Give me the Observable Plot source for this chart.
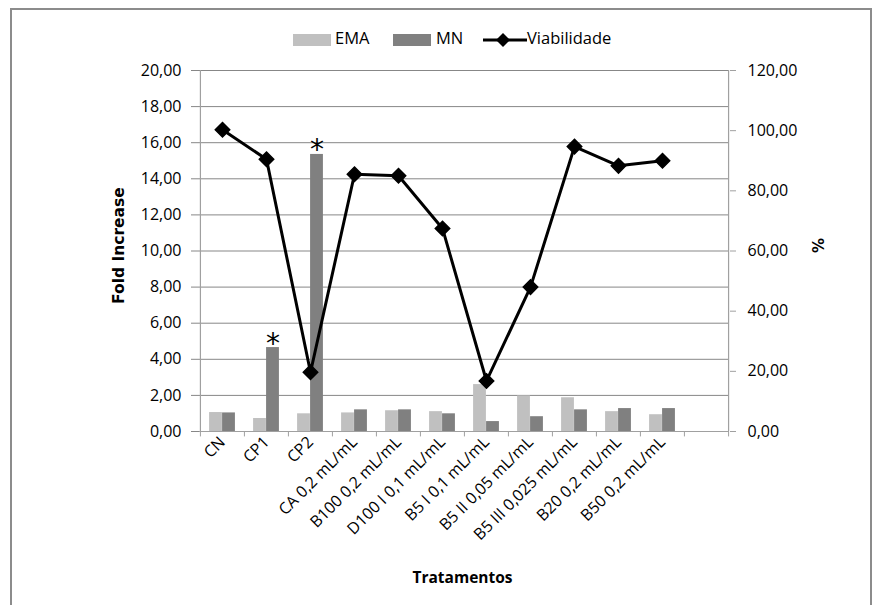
<!DOCTYPE html>
<html>
<head>
<meta charset="utf-8">
<script src="https://cdn.jsdelivr.net/npm/d3@7"></script>
<script src="https://cdn.jsdelivr.net/npm/@observablehq/plot@0.6"></script>
<style>
  html, body { margin: 0; padding: 0; background: #fff; }
  #wrap { position: relative; width: 876px; height: 605px; overflow: hidden; font-family: "Open Sans", sans-serif; }
  #frame { position: absolute; left: 10px; top: 8px; width: 862px; height: 610px; border: 2px solid #8c8c8c; box-sizing: border-box; pointer-events: none; }
  #chart { position: absolute; left: 0; top: 0; }
  .leg { position: absolute; font-size: 16.5px; color: #000; line-height: 1; white-space: nowrap; }
  .sw { position: absolute; height: 12px; }
</style>
</head>
<body>
<div id="wrap">
  <div id="chart"></div>
  <div id="legend"></div>
  <div id="frame"></div>
</div>
<script>
// ---- data ----
const categories = ["CN", "CP1", "CP2", "CA 0,2 mL/mL", "B100 0,2 mL/mL", "D100 I 0,1 mL/mL",
  "B5 I 0,1 mL/mL", "B5 II 0,05 mL/mL", "B5 III 0,025 mL/mL", "B20 0,2 mL/mL", "B50 0,2 mL/mL"];
const ema = [1.05, 0.72, 0.98, 1.03, 1.15, 1.10, 2.60, 1.97, 1.87, 1.10, 0.93];
const mn = [1.03, 4.65, 15.35, 1.20, 1.20, 0.98, 0.55, 0.82, 1.20, 1.27, 1.27];
const viabilidade = [100.3, 90.5, 19.7, 85.5, 85.0, 67.5, 16.8, 48.0, 94.7, 88.3, 90.0];
const starred = ["CP1", "CP2"];
const leftTicks = [0, 2, 4, 6, 8, 10, 12, 14, 16, 18, 20];
const rightTicks = [0, 20, 40, 60, 80, 100, 120];
const seriesNames = ["EMA", "MN", "Viabilidade"];
const colors = ["#c0c0c0", "#808080", "#000000"];

// ---- layout ----
const W = 876, H = 605;
const mL = 199, mR = W - 729, mT = 70, mB = H - 431;
const domain = [...categories, ""]; // 12th empty slot, as in the reference
const bw = (W - mL - mR) / domain.length;
const barW = 13;
const ratio = 6; // 120 % <-> 20 fold

const fmt = d => d.toFixed(2).replace(".", ",");
const rows = categories.map((c, i) => ({c, ema: ema[i], mn: mn[i], v: viabilidade[i] / ratio}));
const grid = "#878787";
const axisCol = "#a0a0a0";

const chart = Plot.plot({
  width: W, height: H,
  marginLeft: mL, marginRight: mR, marginTop: mT, marginBottom: mB,
  style: {fontFamily: "Open Sans, sans-serif", fontSize: "16px", color: "#000", background: "transparent"},
  x: {domain, padding: 0, axis: null},
  y: {domain: [0, 20], axis: null},
  marks: [
    Plot.ruleY(leftTicks.slice(1), {stroke: grid, strokeWidth: 1}),
    Plot.barY(rows, {x: "c", y: "ema", fill: colors[0], insetLeft: bw / 2 - barW, insetRight: bw / 2}),
    Plot.barY(rows, {x: "c", y: "mn", fill: colors[1], insetLeft: bw / 2, insetRight: bw / 2 - barW}),
    Plot.ruleY([0], {stroke: axisCol, strokeWidth: 1.2}),
    // left & right axis lines
    Plot.ruleX([domain[0]], {y1: 0, y2: 20, dx: -bw / 2, stroke: axisCol, strokeWidth: 1.2}),
    Plot.ruleX([domain[domain.length - 1]], {y1: 0, y2: 20, dx: bw / 2, stroke: axisCol, strokeWidth: 1.2}),
    // category boundary ticks
    Plot.ruleX(domain, {y1: 0, y2: -0.3, dx: -bw / 2, stroke: axisCol}),
    Plot.ruleX([domain[domain.length - 1]], {y1: 0, y2: -0.3, dx: bw / 2, stroke: axisCol}),
    Plot.axisY(leftTicks, {anchor: "left", tickSize: 8, tickPadding: 10, tickFormat: fmt, label: null, stroke: grid}),
    Plot.axisY(rightTicks.map(v => v / ratio), {anchor: "right", tickSize: 6, tickPadding: 12,
      tickFormat: d => fmt(d * ratio), label: null, stroke: axisCol}),
    Plot.axisX(categories, {tickSize: 0, tickPadding: 8, tickRotate: -45, label: null}),
    Plot.line(rows, {x: "c", y: "v", stroke: colors[2], strokeWidth: 3}),
    Plot.dot(rows, {x: "c", y: "v", symbol: "diamond2", r: 6.5, fill: "#000", stroke: "#000", strokeWidth: 1.5}),
    Plot.text(rows.filter(d => starred.includes(d.c)), {x: "c", y: "mn", text: () => "*", dx: barW / 2,
      dy: -4, fontSize: 28, fontFamily: "DejaVu Sans", lineAnchor: "middle"}),
    // axis titles
    Plot.text(["Fold Increase"], {x: () => domain[0], y: () => 10.3, dx: -bw / 2 - 81, rotate: -90,
      fontFamily: "DejaVu Sans", fontWeight: "bold", fontSize: 15.5}),
    Plot.text(["%"], {x: () => domain[domain.length - 1], y: () => 10.3, dx: bw / 2 + 91, rotate: -90,
      fontFamily: "DejaVu Sans", fontWeight: "bold", fontSize: 15}),
    Plot.text(["Tratamentos"], {x: () => domain[5], y: () => -8.1, dx: 20, fontWeight: "bold", fontSize: 15.5})
  ]
});
document.getElementById("chart").appendChild(chart);

// ---- legend ----
const leg = document.getElementById("legend");
const items = [
  {name: seriesNames[0], x: 293, type: "bar", color: colors[0], tx: 335},
  {name: seriesNames[1], x: 393, type: "bar", color: colors[1], tx: 436},
  {name: seriesNames[2], x: 483, type: "line", color: colors[2], tx: 527}
];
for (const it of items) {
  if (it.type === "bar") {
    const s = document.createElement("div");
    s.className = "sw";
    s.style.cssText = `left:${it.x}px;top:34px;width:38px;background:${it.color};`;
    leg.appendChild(s);
  } else {
    const ns = "http://www.w3.org/2000/svg";
    const svg = document.createElementNS(ns, "svg");
    svg.setAttribute("width", 44); svg.setAttribute("height", 20);
    svg.style.cssText = `position:absolute;left:${it.x}px;top:30px;`;
    svg.innerHTML = `<line x1="0" y1="10" x2="44" y2="10" stroke="#000" stroke-width="3"/>
      <path d="M20,3 L27,10 L20,17 L13,10 Z" fill="#000"/>`;
    leg.appendChild(svg);
  }
  const t = document.createElement("div");
  t.className = "leg";
  t.style.cssText = `left:${it.tx}px;top:30px;`;
  t.textContent = it.name;
  leg.appendChild(t);
}
</script>
</body>
</html>
